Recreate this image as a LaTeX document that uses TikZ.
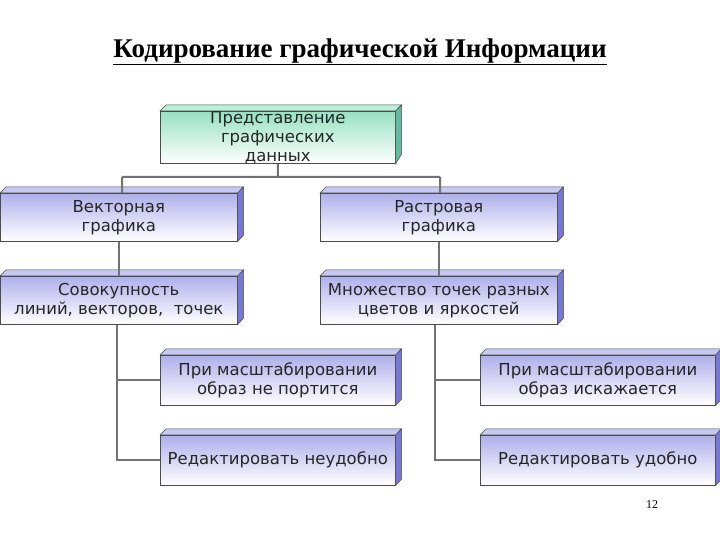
\documentclass[tikz,border=0pt]{standalone}
\usepackage{fontspec}
\setmainfont{Liberation Serif}
\newfontfamily\boxfont{DejaVu Sans}
\definecolor{lav}{RGB}{175,175,235}
\definecolor{lavside}{RGB}{120,120,210}
\definecolor{lavtop}{RGB}{200,200,245}
\definecolor{mint}{RGB}{150,225,195}
\definecolor{mintside}{RGB}{100,185,160}
\definecolor{minttop}{RGB}{185,240,215}
\begin{document}
\begin{tikzpicture}[x=1pt,y=1pt,
  bx/.style={draw=black!70, line width=0.6pt, inner sep=0pt, align=center,
    font=\boxfont\fontsize{16.5}{19}\selectfont, text=black!85},
  blu/.style={bx, top color=lav, bottom color=white},
  grn/.style={bx, top color=mint, bottom color=white},
  ln/.style={draw=black!55, line width=2pt}]
\useasboundingbox (0,0) rectangle (720,540);
\fill[white] (0,0) rectangle (720,540);
\newcommand{\bxx}[8]{%
  \node[#8, minimum width=#4, minimum height=#5, anchor=north west] (#1) at (#2,#3) {#6};
  \fill[#7side, draw=black!70, line width=0.5pt] (#1.north east) -- ++(6,6) -- ++(0,-#5) -- (#1.south east) -- cycle;
  \fill[#7top, draw=black!70, line width=0.5pt] (#1.north west) -- ++(6,6) -- ++(#4,0) -- (#1.north east) -- cycle;}
\node[font=\bfseries\fontsize{27}{31}\selectfont] (title) at (360,488) {\underline{Кодирование графической Информации}};
\coordinate (j0) at (278,363);
\coordinate (j1) at (122,363);
\coordinate (j2) at (440,363);
\bxx{top}{160}{429}{235}{49}{Представление\\графических\\данных}{mint}{grn}
\bxx{vec}{0}{347}{237}{48}{Векторная\\графика}{lav}{blu}
\bxx{ras}{320}{347}{237}{48}{Растровая\\графика}{lav}{blu}
\bxx{sov}{0}{264}{237}{48}{Совокупность\\линий, векторов,\ \ точек}{lav}{blu}
\bxx{mno}{320}{264}{237}{48}{Множество точек разных\\цветов и яркостей}{lav}{blu}
\bxx{a1}{160}{185}{235}{50}{При масштабировании\\образ не портится}{lav}{blu}
\bxx{a2}{480}{185}{235}{50}{При масштабировании\\образ искажается}{lav}{blu}
\bxx{b1}{160}{105}{235}{50}{Редактировать неудобно}{lav}{blu}
\bxx{b2}{480}{105}{235}{50}{Редактировать удобно}{lav}{blu}
\draw[ln] (top.south) -- (j0) (j1) -- (j2) (j1) -- (j1 |- vec.north) (j2) -- (j2 |- ras.north);
\draw[ln] (vec.south) -- ++(0,-10) -| (sov.north);
\draw[ln] (ras.south) -- (mno.north);
\draw[ln] ([xshift=-2pt]sov.south) |- (b1.west);
\draw[ln] ([xshift=-2pt]sov.south |- a1.west) -- (a1.west);
\draw[ln] ([xshift=-4pt]mno.south) |- (b2.west);
\draw[ln] ([xshift=-4pt]mno.south |- a2.west) -- (a2.west);
\node[font=\fontsize{12}{14}\selectfont] (pg) at (652,35) {12};
\end{tikzpicture}
\end{document}
